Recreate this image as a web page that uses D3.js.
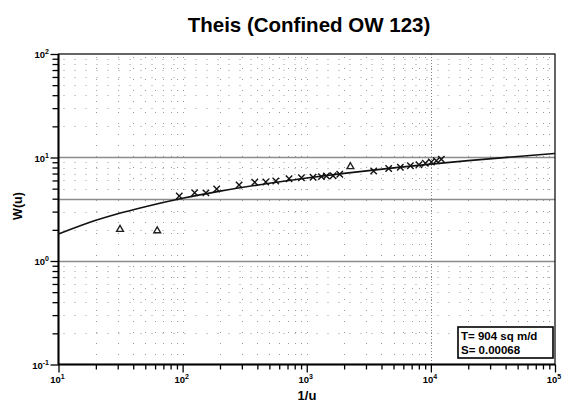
<!DOCTYPE html>
<html>
<head>
<title>Theis</title>
<meta charset="utf-8">
<style type="text/css">
body { margin: 0; background-color: #fff; font-family: "Liberation Sans", Arial, sans-serif; }
svg text { fill: #000; }
</style>
</head>
<body>
<svg id="chart"></svg>

<script src="https://cdn.jsdelivr.net/npm/d3@7"></script>
<script type="text/javascript">
const WIDTH = 566;
const HEIGHT = 405;
const MARGIN = {top: 54, right: 11, bottom: 40, left: 58.5};

// chart text
const TITLE = "Theis (Confined OW 123)";
const X_LABEL = "1/u";
const Y_LABEL = "W(u)";
const LEGEND_LINES = ["T= 904 sq m/d", "S= 0.00068"];

// axis decades (exponents of 10)
const X_EXPONENTS = [1, 2, 3, 4, 5];
const Y_EXPONENTS = [-1, 0, 1, 2];

// type curve
const curveInvU = [10, 20, 30, 50, 100, 200, 500, 1000, 2000, 5000, 10000, 20000, 50000, 100000];
const curveW = [1.82, 2.47, 2.86, 3.35, 4.04, 4.73, 5.64, 6.33, 7.02, 7.94, 8.63, 9.33, 10.24, 10.94];

// observed points, 'x' markers
const crossInvU = [94, 125, 154, 188, 285, 381, 468, 563, 720, 906, 1124, 1313, 1441, 1629, 1844,
                   3459, 4571, 5675, 6837, 8015, 9020, 10090, 11070, 12140];
const crossW = [4.25, 4.57, 4.55, 4.96, 5.43, 5.76, 5.80, 5.93, 6.24, 6.38, 6.44, 6.53, 6.63, 6.67, 6.88,
                7.41, 7.83, 8.04, 8.33, 8.52, 8.79, 9.05, 9.31, 9.61];

// observed points, triangle markers
const triInvU = [31.3, 62.4, 2248];
const triW = [2.02, 1.96, 8.15];

// solid reference lines on W
const REF_W = [1, 4, 10];

const x = d3.scaleLog()
    .domain([10, 1e5])
    .range([MARGIN.left, WIDTH - MARGIN.right]);
const y = d3.scaleLog()
    .domain([0.1, 100])
    .range([HEIGHT - MARGIN.bottom - 0.5, MARGIN.top]);

const svg = d3.select("#chart")
    .attr("width", WIDTH)
    .attr("height", HEIGHT);

const minorTicks = (scale) => scale.ticks().filter(v => {
    const m = v / Math.pow(10, Math.floor(Math.log10(v) + 1e-9));
    return Math.abs(m - 1) > 1e-6;
});
const majorTicks = (scale) => scale.ticks().filter(v => !minorTicks(scale).includes(v));

const x0 = x.range()[0], x1 = x.range()[1];
const y0 = y.range()[0], y1 = y.range()[1];

// dotted grid (sparse dots)
const grid = svg.append("g").attr("stroke", "#9a9a9a").attr("stroke-width", 1)
    .attr("stroke-dasharray", "1,10");
grid.selectAll(".vgrid").data(x.ticks().filter(v => v > 10 && v < 1e5)).join("line")
    .attr("x1", d => Math.round(x(d)) + 0.5).attr("x2", d => Math.round(x(d)) + 0.5)
    .attr("y1", y1 + 3).attr("y2", y0);
grid.selectAll(".hgrid").data(minorTicks(y)).join("line")
    .attr("x1", x0 + 5).attr("x2", x1)
    .attr("y1", d => Math.round(y(d)) + 0.5).attr("y2", d => Math.round(y(d)) + 0.5);

// denser line at 10^4
svg.append("line")
    .attr("x1", Math.round(x(1e4)) + 0.5).attr("x2", Math.round(x(1e4)) + 0.5)
    .attr("y1", y1).attr("y2", y0)
    .attr("stroke", "#888").attr("stroke-dasharray", "1,2");

// solid gray lines
svg.selectAll(".ref").data(REF_W).join("line")
    .attr("x1", x0).attr("x2", x1)
    .attr("y1", d => Math.round(y(d)) + 0.5).attr("y2", d => Math.round(y(d)) + 0.5)
    .attr("stroke", "#8c8c8c").attr("stroke-width", 1.3);

// frame
svg.append("rect")
    .attr("x", x0).attr("y", y1)
    .attr("width", x1 - x0).attr("height", y0 - y1)
    .attr("fill", "none").attr("stroke", "#000").attr("stroke-width", 1.2);
svg.append("line").attr("x1", x0).attr("x2", x0).attr("y1", y1).attr("y2", y0)
    .attr("stroke", "#000").attr("stroke-width", 2);
svg.append("line").attr("x1", x0).attr("x2", x1).attr("y1", y0).attr("y2", y0)
    .attr("stroke", "#000").attr("stroke-width", 2);

// axes
const xAxis = svg.append("g")
    .attr("transform", `translate(0,${y0})`)
    .call(d3.axisBottom(x).tickValues(x.ticks()).tickFormat("").tickSize(5).tickSizeOuter(0));
xAxis.selectAll(".tick line").filter(d => majorTicks(x).includes(d)).attr("y2", 8);
xAxis.select(".domain").remove();
xAxis.selectAll("line").attr("stroke", "#000").attr("stroke-width", 1.3);

const yAxis = svg.append("g")
    .attr("transform", `translate(${x0},0)`)
    .call(d3.axisLeft(y).tickValues(y.ticks()).tickFormat("").tickSize(6).tickSizeOuter(0));
yAxis.selectAll(".tick line").filter(d => majorTicks(y).includes(d)).attr("x2", -8);
yAxis.select(".domain").remove();
yAxis.selectAll("line").attr("stroke", "#000").attr("stroke-width", 1.3);

// tick labels as 10^n
const pow = (g, e) => {
    g.append("tspan").text("10");
    g.append("tspan").attr("dy", -4).attr("font-size", 7).text(e);
};
svg.append("g").selectAll("text").data(X_EXPONENTS).join("text")
    .attr("x", d => x(Math.pow(10, d)) - 1)
    .attr("y", 383)
    .attr("text-anchor", "middle")
    .attr("font-size", 9.5).attr("font-weight", "bold")
    .each(function (d) { pow(d3.select(this), d); });
svg.append("g").selectAll("text").data(Y_EXPONENTS).join("text")
    .attr("x", 49)
    .attr("y", d => y(Math.pow(10, d)) + 4)
    .attr("text-anchor", "end")
    .attr("font-size", 9.5).attr("font-weight", "bold")
    .each(function (d) { pow(d3.select(this), d); });

// titles
svg.append("text")
    .attr("x", 309).attr("y", 32)
    .attr("text-anchor", "middle")
    .attr("font-size", 20.5).attr("font-weight", "bold")
    .text(TITLE);
svg.append("text")
    .attr("x", 307).attr("y", 400)
    .attr("text-anchor", "middle")
    .attr("font-size", 13).attr("font-weight", "bold")
    .text(X_LABEL);
svg.append("text")
    .attr("transform", "translate(22,206) rotate(-90)")
    .attr("text-anchor", "middle")
    .attr("font-size", 12.5).attr("font-weight", "bold")
    .text(Y_LABEL);

// type curve
const curvePts = curveInvU.map((v, i) => [v, curveW[i]]);
svg.append("path").datum(curvePts)
    .attr("fill", "none")
    .attr("stroke", "#111")
    .attr("stroke-width", 1.6)
    .attr("d", d3.line().x(d => x(d[0])).y(d => y(d[1])).curve(d3.curveMonotoneX));

// cross markers
const crossPts = crossInvU.map((v, i) => [v, crossW[i]]);
svg.append("g").selectAll("path").data(crossPts).join("path")
    .attr("transform", d => `translate(${x(d[0])},${y(d[1])})`)
    .attr("d", "M-3.2,-3.2L3.2,3.2M-3.2,3.2L3.2,-3.2")
    .attr("stroke", "#111").attr("stroke-width", 1.4).attr("fill", "none");

// triangle markers
const triPts = triInvU.map((v, i) => [v, triW[i]]);
svg.append("g").selectAll("path").data(triPts).join("path")
    .attr("transform", d => `translate(${x(d[0])},${y(d[1])})`)
    .attr("d", d3.symbol(d3.symbolTriangle, 20))
    .attr("stroke", "#222").attr("stroke-width", 1.4).attr("fill", "#fff");

// legend box
const lg = svg.append("g").attr("transform", "translate(458,327)");
lg.append("rect")
    .attr("width", 95).attr("height", 31)
    .attr("fill", "#fff").attr("stroke", "#000").attr("stroke-width", 1.6);
lg.selectAll("text").data(LEGEND_LINES).join("text")
    .attr("x", 3).attr("y", (d, i) => 13 + i * 14)
    .attr("font-size", 11.5).attr("font-weight", "bold")
    .text(d => d);
</script>
</body>
</html>
